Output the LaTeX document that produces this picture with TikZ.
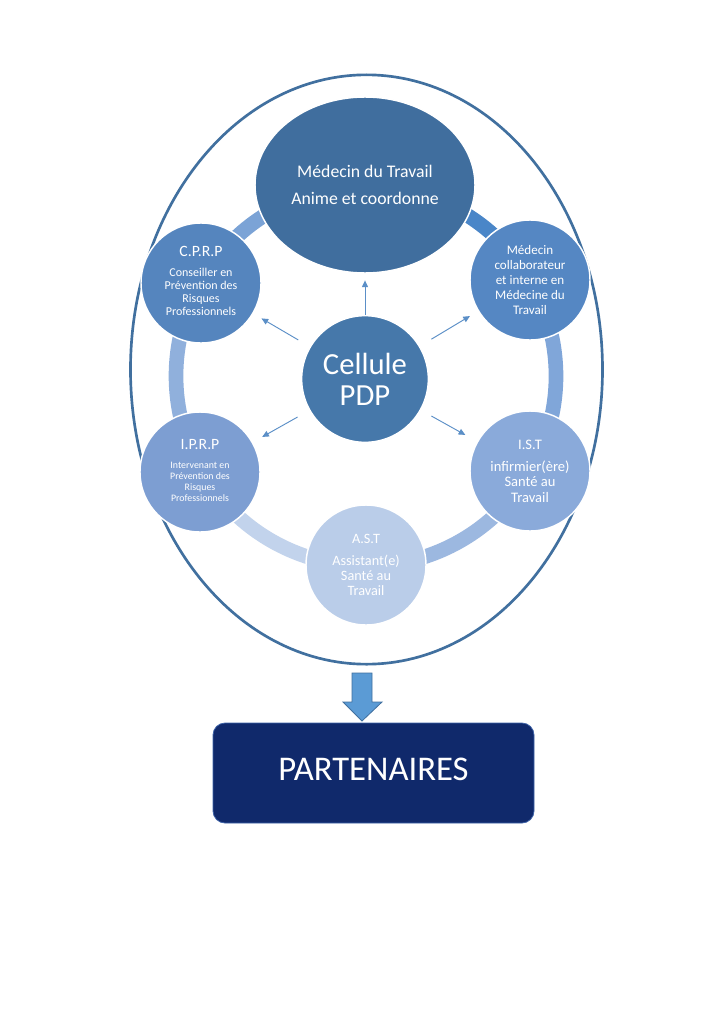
\documentclass[tikz,border=0pt]{standalone}
\usepackage{fontspec}
\setmainfont{Carlito}
\usetikzlibrary{arrows.meta,shapes.geometric}
\definecolor{outerc}{HTML}{41709F}
\definecolor{topc}{HTML}{406E9E}
\definecolor{cellc}{HTML}{4678AA}
\definecolor{cprpc}{HTML}{5585BE}
\definecolor{medc}{HTML}{5587C3}
\definecolor{iprpc}{HTML}{7D9ED2}
\definecolor{istc}{HTML}{8AAADA}
\definecolor{astc}{HTML}{BACDE9}
\definecolor{arrc}{HTML}{5B8FC7}
\definecolor{navy}{HTML}{10296B}
\definecolor{navyb}{HTML}{3D62A8}
\definecolor{bigarr}{HTML}{5B9BD5}
\definecolor{ringA}{HTML}{4A86C8}
\definecolor{ringB}{HTML}{7BA3D6}
\definecolor{ringC}{HTML}{90B0DC}
\definecolor{ringD}{HTML}{C2D3EC}
\definecolor{ringE}{HTML}{9CB8E0}
\definecolor{ringF}{HTML}{80A6D9}
\tikzset{
  member/.style={circle, draw=white, line width=1.1pt, minimum size=90pt, inner sep=0pt, text=white, align=center},
  ringseg/.style={line width=11pt},
  conn/.style={draw=arrc, line width=0.7pt, -{Triangle[length=5pt,width=4.5pt]}},
}
\begin{document}
\begin{tikzpicture}[x=0.75pt,y=-0.75pt]
\useasboundingbox[fill=white] (0,0) rectangle (724,1024);
% outer ellipse
\node[ellipse, draw=outerc, line width=2pt, minimum width=354pt, minimum height=442pt, inner sep=0pt] (outer) at (366.5,369.5) {};
% ring segments
\coordinate (rc) at (366,376);
\draw[ringseg, ringA] (rc) ++(-30:190) arc[start angle=-30, end angle=-90, radius=190];
\draw[ringseg, ringB] (rc) ++(-90:190) arc[start angle=-90, end angle=-151, radius=190];
\draw[ringseg, ringC] (rc) ++(-151:190) arc[start angle=-151, end angle=-209, radius=190];
\draw[ringseg, ringD] (rc) ++(-209:190) arc[start angle=-209, end angle=-270, radius=190];
\draw[ringseg, ringE] (rc) ++(-270:190) arc[start angle=-270, end angle=-330, radius=190];
\draw[ringseg, ringF] (rc) ++(-330:190) arc[start angle=-330, end angle=-390, radius=190];
% top ellipse
\node[ellipse, fill=topc, draw=white, line width=1.1pt, minimum width=165pt, minimum height=132pt, inner sep=0pt, text=white, align=center, font=\fontsize{13.3}{16}\selectfont] (top) at (365,185) {Médecin du Travail\\[4pt]Anime et coordonne};
% members
\node[member, fill=cprpc] (cprp) at (201,283) {\fontsize{11.8}{14}\selectfont C.P.R.P\\[7pt]{\fontsize{9}{9.8}\selectfont\begin{tabular}{@{}c@{}}Conseiller en\\Prévention des\\Risques\\Professionnels\end{tabular}}};
\node[member, fill=medc, font=\fontsize{9.8}{11.2}\selectfont] (med) at (530,280) {Médecin\\collaborateur\\et interne en\\Médecine du\\Travail};
\node[member, fill=iprpc] (iprp) at (200,472) {\fontsize{11.8}{14}\selectfont I.P.R.P\\[7pt]{\fontsize{7.4}{8.2}\selectfont\begin{tabular}{@{}c@{}}Intervenant en\\Prévention des\\Risques\\Professionnels\end{tabular}}};
\node[member, fill=istc, font=\fontsize{10.9}{11.5}\selectfont] (ist) at (530,471) {I.S.T\\[5pt]infirmier(ère)\\Santé au\\Travail};
\node[member, fill=astc, font=\fontsize{10.7}{11.5}\selectfont] (ast) at (366,565) {A.S.T\\[5pt]Assistant(e)\\Santé au\\Travail};
% central
\node[circle, fill=cellc, draw=white, line width=1.1pt, minimum size=95pt, inner sep=0pt, text=white, align=center, font=\fontsize{23}{23.3}\selectfont] (cell) at (365,379) {Cellule\\PDP};
% connectors
\draw[conn, shorten >=5pt] (cell) -- (top);
\draw[conn, shorten <=10pt, shorten >=7pt] (cell) -- (cprp);
\draw[conn, shorten <=10pt, shorten >=7pt] (cell) -- (med);
\draw[conn, shorten <=10pt, shorten >=8pt] (cell) -- (iprp);
\draw[conn, shorten <=9pt, shorten >=10pt] (cell) -- (ist);
% partners box
\node[rectangle, rounded corners=9pt, fill=navy, draw=navyb, line width=0.6pt, minimum width=240.75pt, minimum height=75pt, inner sep=0pt, text=white, font=\fontsize{26}{30}\selectfont, text height=16.7pt, text depth=6pt] (part) at (373.5,773) {PARTENAIRES};
% big arrow
\coordinate (a1) at (352,673);
\coordinate (a2) at (372,673);
\draw[fill=bigarr, draw=outerc, line width=0.6pt] (a1) -- (a2) -- (372,702) -- (382,702) -- (362,721) -- (343,702) -- (352,702) -- cycle;
\end{tikzpicture}
\end{document}
